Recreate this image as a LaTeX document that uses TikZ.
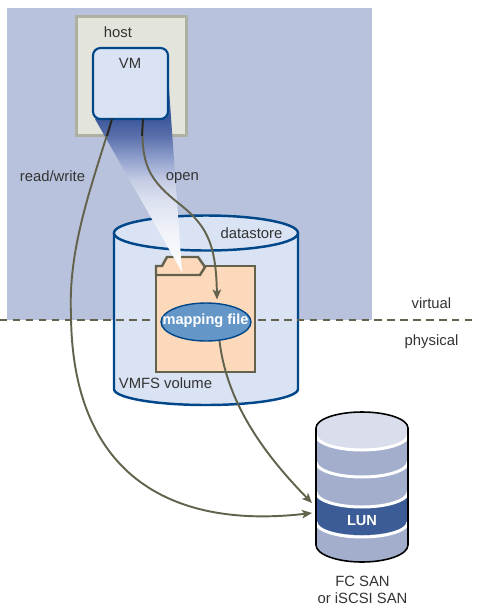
\documentclass[tikz,border=0pt]{standalone}
\usepackage{fontspec}
\setmainfont{Liberation Sans}
\usetikzlibrary{arrows.meta, shapes.geometric}

\definecolor{virtualbg}{HTML}{B9C2DC}
\definecolor{hostfill}{HTML}{E3E4DC}
\definecolor{hostline}{HTML}{AEB0A0}
\definecolor{paleblue}{HTML}{D9E3F3}
\definecolor{navyline}{HTML}{00478A}
\definecolor{beamblue}{HTML}{3F5A9C}
\definecolor{folderfill}{HTML}{FDD9BC}
\definecolor{olive}{HTML}{63634D}
\definecolor{mapfill}{HTML}{6497C8}
\definecolor{lunbody}{HTML}{A3AECD}
\definecolor{luntop}{HTML}{DADEEC}
\definecolor{lunband}{HTML}{3B5C96}
\definecolor{labelgray}{HTML}{333333}

\definecolor{fadea}{HTML}{5A70AC}
\definecolor{fadeb}{HTML}{94A3CF}
\definecolor{fadec}{HTML}{C4CCE4}
\definecolor{faded}{HTML}{DCE1F0}
\definecolor{fadee}{HTML}{F0F2F9}
\pgfdeclareverticalshading{beamfade}{100bp}{color(0bp)=(white); color(25bp)=(white); color(38.8bp)=(fadee); color(48.7bp)=(faded); color(55.3bp)=(fadec); color(61.8bp)=(fadeb); color(69.7bp)=(fadea); color(75bp)=(beamblue); color(100bp)=(beamblue)}

\tikzset{
    label text/.style={text=labelgray, font=\fontsize{8.45}{10}\selectfont, inner sep=0pt},
    white text/.style={text=white, font=\fontsize{8.3}{10}\selectfont\bfseries, inner sep=0pt},
    connector/.style={olive, line width=1.1pt},
    connector dark/.style={black!85, line width=1.1pt},
    arrowed/.style={-{Stealth[length=0.2cm, width=0.17cm, inset=0.05cm]}},
    cyl line/.style={navyline, line width=1.4pt},
    folder line/.style={olive, line width=1.4pt, fill=folderfill},
    lun stripe/.style={white, line width=1.7pt}
}

\begin{document}
\begin{tikzpicture}[x=0.02cm, y=-0.02cm]
        \useasboundingbox (0, 0) rectangle (477, 606);

        \fill[virtualbg] (7, 8) rectangle (372, 320);

        \node (host) [draw=hostline, fill=hostfill, line width=1.7pt, minimum width=2.2cm, minimum height=2.38cm, inner sep=0pt] at (131.5, 76) {};
        \node (hostlabel) [label text] at (118, 32) {host};

        % datastore
        \fill[paleblue] (114, 233) -- (114, 389) arc[start angle=180, end angle=0, x radius=92, y radius=16] -- (298, 233) -- cycle;
        \draw[cyl line] (114, 233) -- (114, 389) arc[start angle=180, end angle=0, x radius=92, y radius=16] -- (298, 233);
        \draw[cyl line, fill=paleblue] (206, 233) ellipse [x radius=92, y radius=17.5];
        \node (datastore) [label text] at (251.5, 233) {datastore};
        \node (vmfs) [label text] at (165.5, 383) {VMFS volume};

        \draw[olive, line width=1.2pt, dash pattern=on 4.25pt off 3.1pt] (0, 320) -- (472, 320);

        % folder
        \draw[folder line] (156, 266) rectangle (255, 372);
        \draw[folder line] (156, 275) -- (156, 266) -- (162, 266) -- (167, 257) -- (198, 257) -- (205, 267) -- (200, 275) -- cycle;

        % beam
        \begin{scope}
            \clip (95, 119) -- (168, 75) -- (182, 272) -- cycle;
            \fill[beamblue] (90, 70) rectangle (175, 120);
            \shade[shading=beamfade] (90, 120) rectangle (190, 272);
        \end{scope}

        \node (vm) [draw=navyline, fill=paleblue, line width=1.2pt, rounded corners=0.15cm, minimum width=1.5cm, minimum height=1.42cm, inner sep=0pt] at (130.5, 83.5) {};
        \node (vmlabel) [label text] at (130, 63) {VM};

        \node (mapping) [ellipse, draw=navyline, fill=mapfill, line width=0.8pt, minimum width=1.8cm, minimum height=0.76cm, inner sep=0pt] at (206, 322) {};
        \node (mappinglabel) [white text] at (205.5, 321) {mapping file};

        % LUN
        \fill[lunbody] (316, 428) -- (316, 545) arc[start angle=180, end angle=0, x radius=46, y radius=17] -- (408, 428) -- cycle;
        \fill[luntop] (316, 428) arc[start angle=180, end angle=360, x radius=46, y radius=16] -- (408, 435) arc[start angle=0, end angle=180, x radius=46, y radius=15] -- cycle;
        \fill[lunband] (316, 493) arc[start angle=180, end angle=0, x radius=46, y radius=14] -- (408, 521) arc[start angle=0, end angle=180, x radius=46, y radius=14] -- cycle;
        \foreach \ystripe in {435, 462, 492, 522}
            \draw[lun stripe] (316, \ystripe) arc[start angle=180, end angle=0, x radius=46, y radius=15];
        \draw[black, line width=0.9pt] (316, 428) -- (316, 545) arc[start angle=180, end angle=0, x radius=46, y radius=17] -- (408, 428) arc[start angle=0, end angle=-180, x radius=46, y radius=16];
        \node (lun) [white text] at (362, 521) {LUN};
        \node (san) [label text, align=center] at (362.5, 590) {FC SAN\\or iSCSI SAN};

        \coordinate (vmread) at (112, 119);
        \coordinate (vmopen) at (143, 119);
        \coordinate (mapin) at (217, 299.5);
        \coordinate (mapout) at (219.5, 341);
        \coordinate (lunin) at (312, 503);
        \coordinate (lunread) at (312, 513);

        \draw[connector, arrowed] (vmread) .. controls (90, 190) and (68, 250) .. (71, 315) .. controls (72, 470) and (165, 530) .. (lunread);
        \draw[connector, arrowed] (vmopen) .. controls (140, 165) and (150, 180) .. (177, 202) .. controls (205, 224) and (216, 240) .. (mapin);
        \draw[connector, arrowed] (mapout) .. controls (226, 395) and (255, 445) .. (lunin);
        \draw[connector dark] (vmread) -- (107, 136);
        \draw[connector dark] (vmopen) -- (142, 136);

        \node (readwrite) [label text] at (52.5, 176) {read/write};
        \node (open) [label text] at (182.5, 178) {open};
        \node (virtual) [label text] at (431.5, 303) {virtual};
        \node (physical) [label text] at (431.5, 342) {physical};
    \end{tikzpicture}
\end{document}
